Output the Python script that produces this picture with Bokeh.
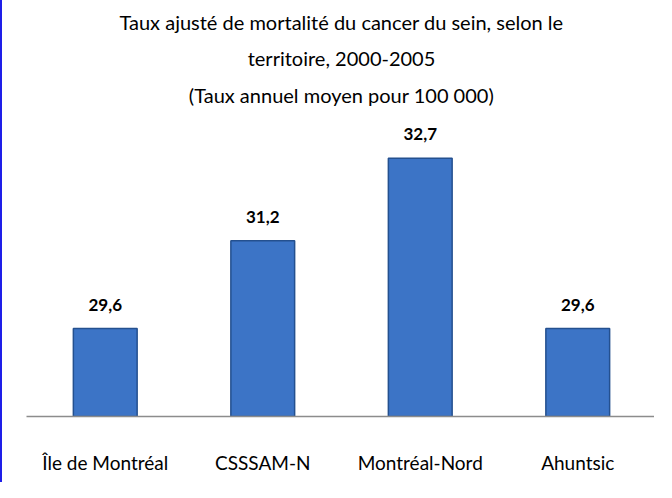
from bokeh.plotting import figure
from bokeh.models import ColumnDataSource, Title, Range1d
from bokeh.core.properties import value
from bokeh.embed import file_html
from bokeh.resources import INLINE

categories = ["Île de Montréal", "CSSSAM-N", "Montréal-Nord", "Ahuntsic"]
rates = [29.6, 31.2, 32.7, 29.6]
rate_labels = ["29,6", "31,2", "32,7", "29,6"]
title_lines = [
    "Taux ajusté de mortalité du cancer du sein, selon le",
    "territoire, 2000-2005",
    "(Taux annuel moyen pour 100 000)",
]

FONT = "Lato"
y0 = 28.0

p = figure(
    x_range=categories,
    y_range=Range1d(y0, 33.48),
    width=654, height=482,
    output_backend="svg", toolbar_location=None,
    min_border_left=24, min_border_right=0, min_border_bottom=66, min_border_top=0,
)
p.styles = {"border-left": "2px solid #1E1EE8"}
p.title.visible = False

standoffs = [14, 6, 17]  # line 1, line 2, line 3
for line, so in reversed(list(zip(title_lines, standoffs))):
    p.add_layout(Title(text=line, align="center", text_font=FONT, text_font_size="20px",
                       text_font_style="normal", text_color="#000000", standoff=so), "above")

src = ColumnDataSource(dict(cat=categories, rate=rates, lab=rate_labels, base=[y0] * len(rates)))
p.vbar(x="cat", top="rate", bottom="base", width=0.405, source=src,
       fill_color="#3C74C6", line_color="#24508F", line_width=1.5)
p.text(x="cat", y="rate", text="lab", source=src, text_align="center", text_baseline="middle",
       y_offset=-24, text_font=value(FONT), text_font_size="17px", text_font_style="bold",
       text_color="#000000")

p.xaxis.axis_line_color = "#8C8C8C"
p.xaxis.axis_line_width = 1.5
p.xaxis.major_tick_line_color = None
p.xaxis.minor_tick_line_color = None
p.xaxis.major_label_text_font = FONT
p.xaxis.major_label_text_font_size = "19px"
p.xaxis.major_label_text_color = "#000000"
p.xaxis.major_label_standoff = 28
p.yaxis.visible = False
p.xgrid.grid_line_color = None
p.ygrid.grid_line_color = None
p.outline_line_color = None
p.x_range.range_padding = 0

open("out.html", "w").write(file_html(p, INLINE))
